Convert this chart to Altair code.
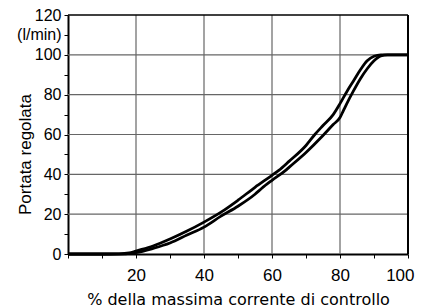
import altair as alt
import pandas as pd

# Upper (left) curve
x_a = [0, 10, 15, 18, 20, 25, 30, 35, 40, 45, 50, 55, 60, 62, 65, 70, 72.6, 75, 78, 80, 82, 84, 86, 88, 90, 92, 100]
y_a = [0, 0, 0.1, 0.5, 1.5, 4, 7.5, 11.5, 16, 21, 27, 33.5, 39.5, 42, 46.5, 54.5, 60, 64.5, 70, 75.5, 81.5, 87, 92.5, 97, 99.3, 100, 100]

# Lower (right) curve
x_b = [0, 10, 17, 20, 25, 30, 35, 40, 45, 50, 55, 57, 60, 64, 65, 70, 75, 78, 80, 81, 82, 84, 86, 88, 90, 92, 94, 100]
y_b = [0, 0, 0.1, 0.7, 2.8, 5.5, 9.5, 13.5, 19, 24, 30, 33, 37, 42, 43.5, 51, 59.5, 65, 68.5, 72, 75.5, 82, 88, 93, 97, 99.5, 100, 100]

x_grid = [20, 40, 60, 80]
y_grid = [20, 40, 60, 80, 100]
x_border = [100]
y_border = [120]
x_ticks = [0, 10, 20, 30, 40, 50, 60, 70, 80, 90, 100]
y_ticks = [0, 10, 20, 30, 40, 50, 60, 70, 80, 90, 100, 110, 120]

df = pd.concat([
    pd.DataFrame({"x": x_a, "y": y_a, "s": "a"}),
    pd.DataFrame({"x": x_b, "y": y_b, "s": "b"}),
])

xscale = alt.Scale(domain=[0, 100], nice=False)
yscale = alt.Scale(domain=[0, 120], nice=False)

xaxis = alt.Axis(
    values=x_ticks,
    labelExpr="datum.value % 20 === 0 && datum.value > 0 ? datum.label : ''",
    labelFlush=True, labelFlushOffset=6,
    title="% della massima corrente di controllo",
    titleFont="DejaVu Sans", titleFontSize=16, titleFontWeight="normal", titleColor="black",
    labelFont="Liberation Sans", labelFontSize=17, labelColor="black",
    grid=False, domainColor="black", domainWidth=2, tickColor="black", tickSize=4,
    labelPadding=9, titlePadding=8,
)
yaxis = alt.Axis(
    values=y_ticks,
    labelExpr="datum.value === 110 ? '(l/min)' : (datum.value % 20 === 0 ? datum.label : '')",
    labelFlush=False,
    title="Portata regolata",
    titleFont="Liberation Sans", titleFontSize=17, titleFontWeight="normal", titleColor="black",
    titleX=-34, titleY=139, titleAlign="center",
    labelFont="Liberation Sans", labelFontSize=16, labelColor="black",
    grid=False, domainColor="black", domainWidth=2, tickColor="black", tickSize=4,
    labelPadding=3,
)

vgrid = alt.Chart(pd.DataFrame({"x": x_grid})).mark_rule(color="#666", strokeWidth=1.2).encode(
    x=alt.X("x:Q", scale=xscale, axis=xaxis)
)
hgrid = alt.Chart(pd.DataFrame({"y": y_grid})).mark_rule(color="#666", strokeWidth=1.2).encode(
    y=alt.Y("y:Q", scale=yscale, axis=yaxis)
)
vborder = alt.Chart(pd.DataFrame({"xb": x_border})).mark_rule(color="black", strokeWidth=2).encode(
    x=alt.X("xb:Q", scale=xscale, axis=xaxis)
)
hborder = alt.Chart(pd.DataFrame({"yb": y_border})).mark_rule(color="black", strokeWidth=1.5).encode(
    y=alt.Y("yb:Q", scale=yscale, axis=yaxis)
)
lines = alt.Chart(df).mark_line(color="black", strokeWidth=2.8, interpolate="monotone").encode(
    x=alt.X("x:Q", scale=xscale, axis=xaxis),
    y=alt.Y("y:Q", scale=yscale, axis=yaxis),
    detail="s:N",
)

chart = alt.layer(vgrid, hgrid, vborder, hborder, lines).properties(
    width=340, height=239,
    autosize=alt.AutoSizeParams(type="none"),
    padding={"left": 60, "top": 7, "right": 8, "bottom": 55},
    background="white",
).configure_view(stroke=None)

chart.save("out.html", embed_options={"renderer": "svg", "actions": False})
